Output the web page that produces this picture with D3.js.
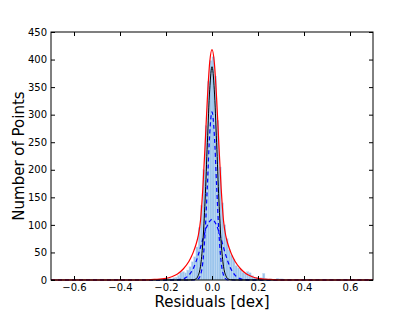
<!DOCTYPE html>
<html>
<head>
<meta charset="utf-8">
<style>
  body { margin: 0; background: #fff; }
  svg text { font-family: 'DejaVu Sans', sans-serif; fill: #000; }
</style>
</head>
<body>
<div id="plot"></div>
<script src="https://d3js.org/d3.v7.min.js"></script>
<script>
// histogram bins (centre of each 0.01 wide bin) and counts
const binCenters = [-0.295, -0.285, -0.275, -0.265, -0.255, -0.245, -0.235, -0.225, -0.215, -0.205,
  -0.195, -0.185, -0.175, -0.165, -0.155, -0.145, -0.135, -0.125, -0.115, -0.105,
  -0.095, -0.085, -0.075, -0.065, -0.055, -0.045, -0.035, -0.025, -0.015, -0.005,
  0.005, 0.015, 0.025, 0.035, 0.045, 0.055, 0.065, 0.075, 0.085, 0.095,
  0.105, 0.115, 0.125, 0.135, 0.145, 0.155, 0.165, 0.175, 0.185, 0.195,
  0.205, 0.215, 0.225, 0.235, 0.245, 0.255, 0.265, 0.275, 0.285, 0.295, 0.305];
const binCounts = [1, 0, 1, 0, 1, 1, 0, 1, 2, 1,
  2, 3, 2, 4, 5, 8, 14, 15, 13, 18,
  24, 33, 42, 60, 95, 135, 200, 280, 360, 398,
  405, 370, 290, 205, 140, 100, 75, 55, 45, 38,
  26, 22, 20, 14, 12, 15, 13, 8, 4, 5,
  3, 4, 12, 3, 1, 2, 1, 1, 3, 2, 2];
const binWidth = 0.01;

// fitted curves
const totalX = [-0.7, -0.3, -0.25, -0.2, -0.175, -0.15, -0.125, -0.1, -0.09, -0.08, -0.07, -0.06, -0.05, -0.04, -0.03, -0.02, -0.01, 0,
  0.01, 0.02, 0.03, 0.04, 0.05, 0.06, 0.07, 0.08, 0.09, 0.1, 0.125, 0.15, 0.175, 0.2, 0.25, 0.3, 0.7];
const totalY = [0, 0, 1, 3, 6, 11, 20, 34, 42, 52, 64, 80, 108, 165, 245, 330, 395, 418,
  395, 330, 245, 165, 108, 80, 64, 52, 42, 34, 20, 11, 6, 3, 1, 0, 0];

const coreX = [-0.7, -0.1, -0.08, -0.07, -0.06, -0.05, -0.04, -0.03, -0.02, -0.01, 0,
  0.01, 0.02, 0.03, 0.04, 0.05, 0.06, 0.07, 0.08, 0.1, 0.7];
const coreY = [0, 0, 0.5, 2, 8, 25, 67, 145, 250, 345, 387,
  345, 250, 145, 67, 25, 8, 2, 0.5, 0, 0];

const narrowX = [-0.7, -0.08, -0.07, -0.06, -0.05, -0.04, -0.03, -0.02, -0.01, 0,
  0.01, 0.02, 0.03, 0.04, 0.05, 0.06, 0.07, 0.08, 0.7];
const narrowY = [0, 0, 0, 2, 9, 32, 86, 172, 265, 305,
  265, 172, 86, 32, 9, 2, 0, 0, 0];

const broadX = [-0.7, -0.18, -0.14, -0.12, -0.1, -0.08, -0.06, -0.04, -0.02, 0,
  0.02, 0.04, 0.06, 0.08, 0.1, 0.12, 0.14, 0.18, 0.7];
const broadY = [0, 0, 1, 3, 9, 22, 45, 74, 99, 110,
  99, 74, 45, 22, 9, 3, 1, 0, 0];

const xTicks = [-0.6, -0.4, -0.2, 0.0, 0.2, 0.4, 0.6];
const yTicks = [0, 50, 100, 150, 200, 250, 300, 350, 400, 450];

const W = 415, H = 312;
const margin = {left: 51, right: 42, top: 32, bottom: 32};

const svg = d3.select('#plot').append('svg')
    .attr('width', W).attr('height', H);

const x = d3.scaleLinear().domain([-0.7, 0.7]).range([margin.left, W - margin.right]);
const y = d3.scaleLinear().domain([0, 450]).range([H - margin.bottom, margin.top]);

// bars
svg.append('g').selectAll('rect')
    .data(binCenters.map((c, i) => ({c, n: binCounts[i]})))
    .join('rect')
    .attr('x', d => x(d.c - binWidth / 2))
    .attr('width', d => x(d.c + binWidth / 2) - x(d.c - binWidth / 2))
    .attr('y', d => y(d.n))
    .attr('height', d => y(0) - y(d.n))
    .attr('fill', '#9cc5ec')
    .attr('stroke', '#c6ddf4')
    .attr('stroke-width', 0.4);

const line = d3.line()
    .x(d => x(d[0]))
    .y(d => y(d[1]))
    .curve(d3.curveMonotoneX);

const curves = [
  {xs: broadX, ys: broadY, color: '#0000ff', dash: '4,3', w: 1.2},
  {xs: narrowX, ys: narrowY, color: '#0000ff', dash: '4,3', w: 1.2},
  {xs: coreX, ys: coreY, color: '#000', dash: null, w: 1},
  {xs: totalX, ys: totalY, color: '#ff0000', dash: null, w: 1.2}
];
curves.forEach(c => {
  svg.append('path')
      .datum(c.xs.map((v, i) => [v, c.ys[i]]))
      .attr('d', line)
      .attr('fill', 'none')
      .attr('stroke', c.color)
      .attr('stroke-width', c.w)
      .attr('stroke-dasharray', c.dash);
});

// axes, matplotlib classic style: ticks inward on all four sides
const fmtX = d3.format('.1f');
svg.append('g')
    .attr('transform', `translate(0,${y(0)})`)
    .call(d3.axisBottom(x).tickValues(xTicks).tickFormat(fmtX).tickSizeInner(-4).tickSizeOuter(0).tickPadding(4))
    .call(g => g.select('.domain').remove())
    .call(g => g.selectAll('text').attr('font-size', 10).attr('font-family', 'DejaVu Sans'));
svg.append('g')
    .attr('transform', `translate(0,${y(450)})`)
    .call(d3.axisTop(x).tickValues(xTicks).tickFormat('').tickSizeInner(-4).tickSizeOuter(0))
    .call(g => g.select('.domain').remove());
svg.append('g')
    .attr('transform', `translate(${x(-0.7)},0)`)
    .call(d3.axisLeft(y).tickValues(yTicks).tickFormat(d3.format('d')).tickSizeInner(-4).tickSizeOuter(0).tickPadding(4))
    .call(g => g.select('.domain').remove())
    .call(g => g.selectAll('text').attr('font-size', 10).attr('font-family', 'DejaVu Sans'));
svg.append('g')
    .attr('transform', `translate(${x(0.7)},0)`)
    .call(d3.axisRight(y).tickValues(yTicks).tickFormat('').tickSizeInner(-4).tickSizeOuter(0))
    .call(g => g.select('.domain').remove());

svg.append('rect')
    .attr('x', x(-0.7)).attr('y', y(450))
    .attr('width', x(0.7) - x(-0.7)).attr('height', y(0) - y(450))
    .attr('fill', 'none').attr('stroke', '#000').attr('stroke-width', 1);

svg.append('text')
    .attr('x', x(0)).attr('y', 307)
    .attr('text-anchor', 'middle')
    .attr('font-size', 15)
    .text('Residuals [dex]');
svg.append('text')
    .attr('transform', `translate(24,${(y(0) + y(450)) / 2}) rotate(-90)`)
    .attr('text-anchor', 'middle')
    .attr('font-size', 15)
    .text('Number of Points');
</script>
</body>
</html>
